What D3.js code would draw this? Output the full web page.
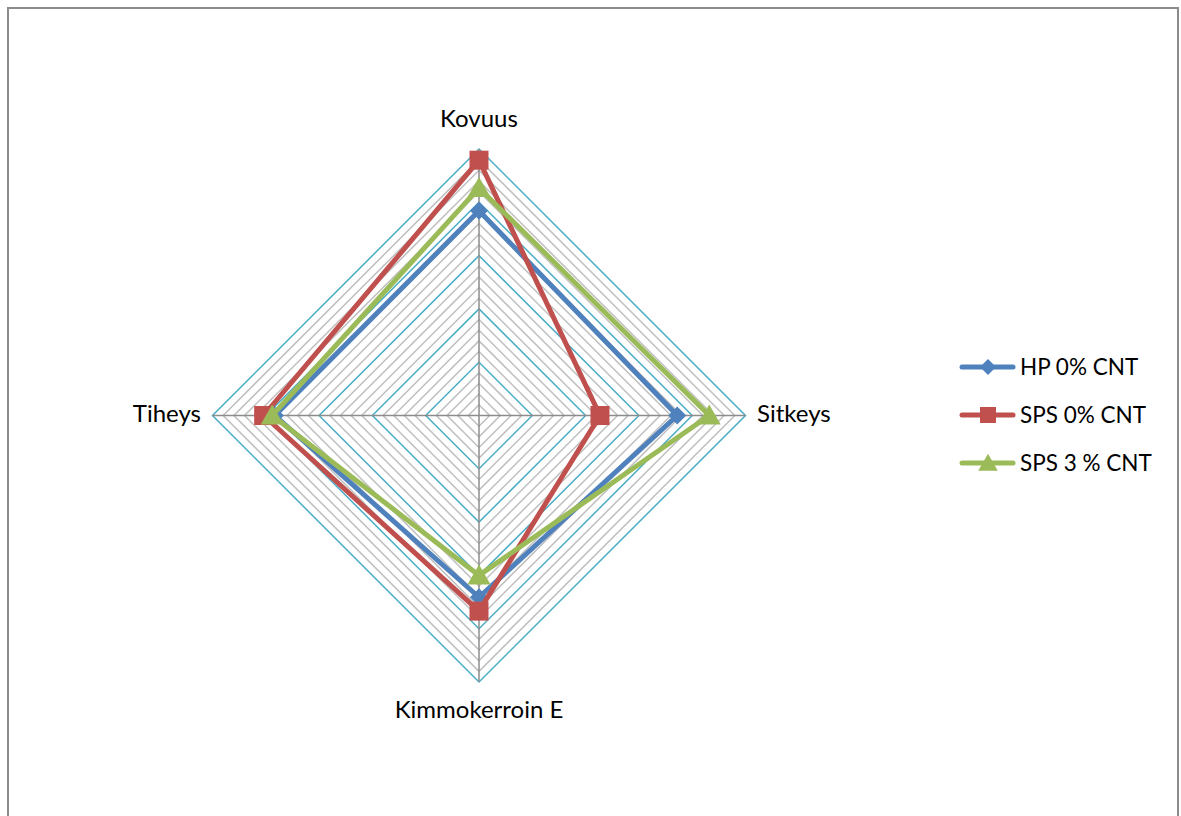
<!DOCTYPE html>
<html><head><meta charset="utf-8">
<script src="https://cdn.jsdelivr.net/npm/d3@7"></script>
<style>body{margin:0;background:#fff}svg{display:block}text{font-family:Lato,"Open Sans",sans-serif}</style>
</head><body><svg id="c" width="1181" height="816"></svg>
<script>
const axes = ["Kovuus", "Sitkeys", "Kimmokerroin E", "Tiheys"];
const seriesNames = ["HP 0% CNT", "SPS 0% CNT", "SPS 3 % CNT"];
const hp0 = [3.84, 3.72, 3.41, 3.83];
const sps0 = [4.79, 2.27, 3.67, 4.04];
const sps3 = [4.27, 4.32, 3.00, 3.88];
const colors = ["#4f81bd", "#c0504d", "#9bbb59"];
const markers = ["diamond", "square", "triangle"];
const values = [hp0, sps0, sps3];

const svg = d3.select("#c");
// outer border
svg.append("path").attr("d","M8,820 V8 H1178 V820").attr("fill","none").attr("stroke","#8c8c8c").attr("stroke-width",2);

const cx = 479, cy = 415.5;
const r = d3.scaleLinear().domain([0,5]).range([0,266.5]);
const ang = i => -Math.PI/2 + i*2*Math.PI/axes.length;
const pt = (v,i) => [cx + r(v)*Math.cos(ang(i)), cy + r(v)*Math.sin(ang(i))];

const g = svg.append("g");
const rings = d3.range(1,26).map(k=>k*0.2);
rings.forEach((v,k)=>{
  const major = (k+1)%5===0;
  if(major) return;
  g.append("path").attr("d", d3.line()(axes.map((a,i)=>pt(v,i)))+"Z")
    .attr("fill","none").attr("stroke","#bfbfbf").attr("stroke-width",1.5);
});
rings.forEach((v,k)=>{
  const major = (k+1)%5===0;
  if(!major) return;
  g.append("path").attr("d", d3.line()(axes.map((a,i)=>pt(v,i)))+"Z")
    .attr("fill","none").attr("stroke","#4bacc6").attr("stroke-width",1.5);
});
axes.forEach((a,i)=>{
  const [x,y]=pt(5,i);
  g.append("line").attr("x1",cx).attr("y1",cy).attr("x2",x).attr("y2",y)
    .attr("stroke","#8c8c8c").attr("stroke-width",1.5);
});

// axis labels
const lab = svg.append("g").attr("font-size",24).attr("fill","#000");
lab.append("text").attr("x",cx).attr("y",127).attr("text-anchor","middle").text(axes[0]);
lab.append("text").attr("x",757).attr("y",422).attr("text-anchor","start").text(axes[1]);
lab.append("text").attr("x",cx).attr("y",718).attr("text-anchor","middle").text(axes[2]);
lab.append("text").attr("x",201).attr("y",422).attr("text-anchor","end").text(axes[3]);

function marker(sel, type, x, y, s, color){
  let d;
  if(type==="diamond") d=`M${x},${y-s}L${x+s},${y}L${x},${y+s}L${x-s},${y}Z`;
  else if(type==="square") d=`M${x-s},${y-s}H${x+s}V${y+s}H${x-s}Z`;
  else d=`M${x},${y-s*1.1}L${x+s*1.15},${y+s*0.9}L${x-s*1.15},${y+s*0.9}Z`;
  sel.append("path").attr("d",d).attr("fill",color);
}

values.forEach((vals,si)=>{
  const pts = vals.map((v,i)=>pt(v,i));
  svg.append("path").attr("d", d3.line()(pts)+"Z").attr("fill","none")
    .attr("stroke",colors[si]).attr("stroke-width",5).attr("stroke-linejoin","round");
  const ms = markers[si]==="diamond"?9:(markers[si]==="square"?9.5:10);
  pts.forEach(p=>marker(svg, markers[si], p[0], p[1], ms, colors[si]));
});

// legend
const ly = [367, 415, 463];
seriesNames.forEach((n,si)=>{
  svg.append("line").attr("x1",962).attr("x2",1013).attr("y1",ly[si]).attr("y2",ly[si])
    .attr("stroke",colors[si]).attr("stroke-width",5).attr("stroke-linecap","round");
  marker(svg, markers[si], 988, ly[si], markers[si]==="triangle"?8.5:8, colors[si]);
  svg.append("text").attr("x",1020).attr("y",ly[si]+8).attr("font-size",22.5).text(n);
});
</script></body></html>
